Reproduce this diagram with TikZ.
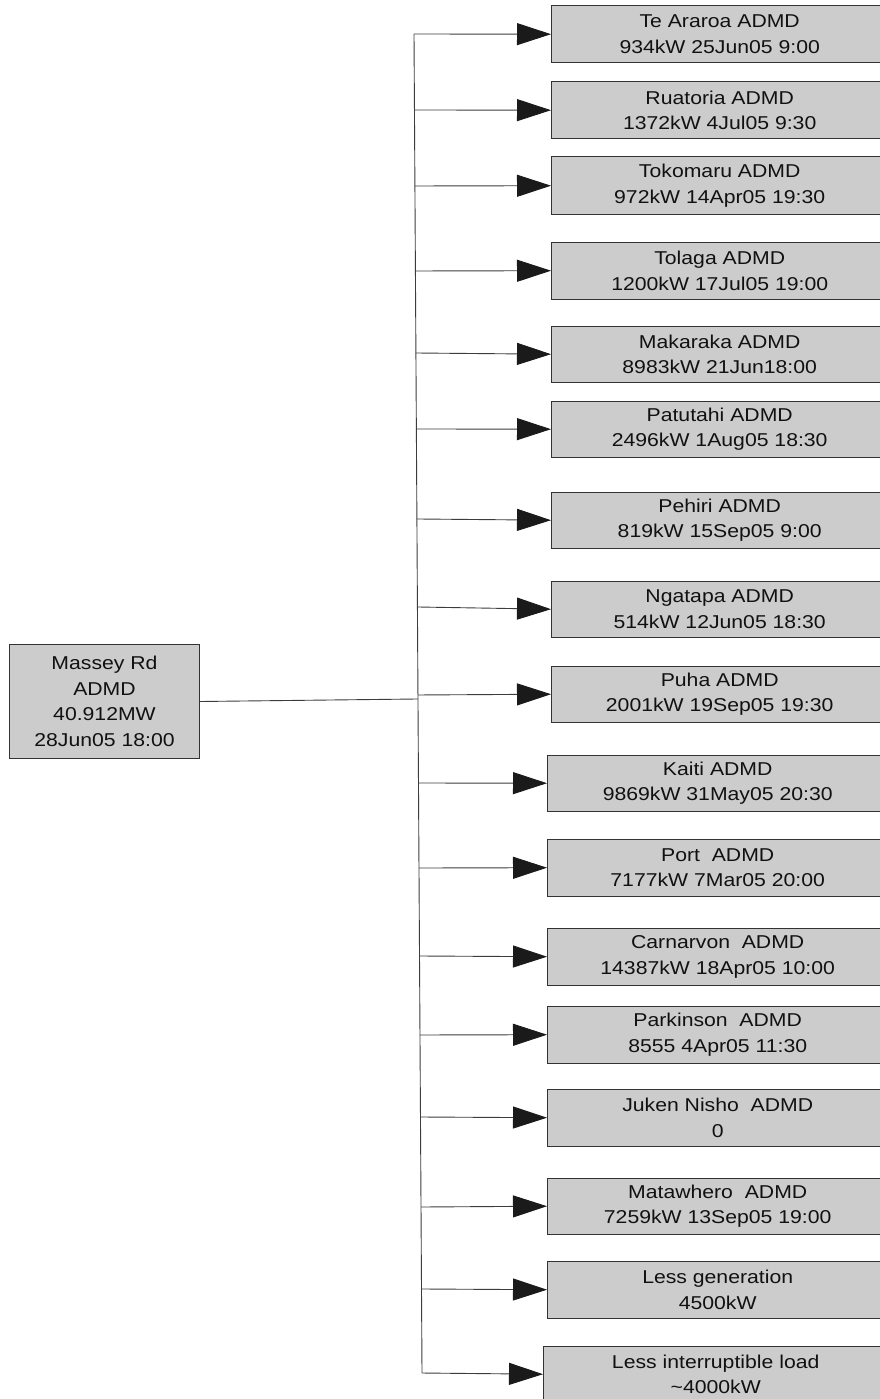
\documentclass[tikz,border=0pt]{standalone}
\usepackage{fontspec}
\newfontfamily\boxfont[FakeStretch=1.14]{Liberation Sans}
\usetikzlibrary{arrows.meta,calc,backgrounds}
\definecolor{boxfill}{HTML}{CCCCCC}
\definecolor{boxline}{HTML}{333333}
\definecolor{wirec}{HTML}{3C3C3C}
\definecolor{tipc}{HTML}{1A1A1A}
\definecolor{txt}{HTML}{111111}
\begin{document}
\begin{tikzpicture}[x=1pt,y=-1pt,
  boxtext/.style={inner sep=0pt, align=center, anchor=north west, text=txt,
    font=\boxfont\fontsize{18.6}{25.5}\selectfont},
  box/.style={boxtext, draw=boxline, fill=boxfill, line width=1pt},
  frame/.style={draw=boxline, fill=boxfill, line width=1pt},
  wire/.style={draw=wirec, line width=0.9pt},
  feed/.style={wire, -{Triangle[length=34pt,width=22pt,fill=tipc,color=tipc]}}]
\useasboundingbox (0,0) rectangle (880,1399);

\node[box, minimum width=190pt, minimum height=114pt] (massey) at (9,644)
  {Massey Rd\\ADMD\\40.912MW\\28Jun05 18:00};

\node[boxtext, minimum width=337pt, minimum height=56pt] (n1) at (551,6) {Te Araroa ADMD\\934kW 25Jun05 9:00};
\node[boxtext, minimum width=337pt, minimum height=56pt] (n2) at (551,82) {Ruatoria ADMD\\1372kW 4Jul05 9:30};
\node[boxtext, minimum width=337pt, minimum height=57pt] (n3) at (551,157) {Tokomaru ADMD\\972kW 14Apr05 19:30};
\node[boxtext, minimum width=337pt, minimum height=57pt] (n4) at (551,242) {Tolaga ADMD\\1200kW 17Jul05 19:00};
\node[boxtext, minimum width=337pt, minimum height=56pt] (n5) at (551,326) {Makaraka ADMD\\8983kW 21Jun18:00};
\node[boxtext, minimum width=337pt, minimum height=56pt] (n6) at (551,401) {Patutahi ADMD\\2496kW 1Aug05 18:30};
\node[boxtext, minimum width=337pt, minimum height=56pt] (n7) at (551,492) {Pehiri ADMD\\819kW 15Sep05 9:00};
\node[boxtext, minimum width=337pt, minimum height=56pt] (n8) at (551,581) {Ngatapa ADMD\\514kW 12Jun05 18:30};
\node[boxtext, minimum width=337pt, minimum height=56pt] (n9) at (551,666) {Puha ADMD\\2001kW 19Sep05 19:30};
\node[boxtext, minimum width=341pt, minimum height=56pt] (n10) at (547,755) {Kaiti ADMD\\9869kW 31May05 20:30};
\node[boxtext, minimum width=341pt, minimum height=57pt] (n11) at (547,839) {Port\ \ ADMD\\7177kW 7Mar05 20:00};
\node[boxtext, minimum width=341pt, minimum height=57pt] (n12) at (547,928) {Carnarvon\ \ ADMD\\14387kW 18Apr05 10:00};
\node[boxtext, minimum width=341pt, minimum height=57pt] (n13) at (547,1006) {Parkinson\ \ ADMD\\8555 4Apr05 11:30};
\node[boxtext, minimum width=341pt, minimum height=57pt] (n14) at (547,1089) {Juken Nisho\ \ ADMD\\0};
\node[boxtext, minimum width=341pt, minimum height=56pt] (n15) at (547,1178) {Matawhero\ \ ADMD\\7259kW 13Sep05 19:00};
\node[boxtext, minimum width=341pt, minimum height=57pt] (n16) at (547,1261) {Less generation\\4500kW};
\node[boxtext, minimum width=345pt, minimum height=56pt] (n17) at (543,1346) {Less interruptible load\\\textasciitilde4000kW};

\begin{scope}[on background layer]
  \foreach \n in {n1,n2,n3,n4,n5,n6,n7,n8,n9,n10,n11,n12,n13,n14,n15,n16,n17}
    \path[frame] (\n.north west) rectangle ([xshift=30pt]\n.south east);
\end{scope}

\coordinate (top) at (414,34);
\coordinate (bot) at (422,1373);
\draw[wire] (top) -- (bot);

\coordinate (jm) at ($(top)!{(699-34)/1339}!(bot)$);
\draw[wire] (massey.east) -- (jm);

\foreach \i/\y in {1/34, 2/110, 3/186, 4/271, 5/353, 6/429, 7/519, 8/607, 9/695,
                   10/783, 11/868, 12/956, 13/1035, 14/1117, 15/1207, 16/1289, 17/1373} {
  \coordinate (j\i) at ($(top)!{(\y-34)/1339}!(bot)$);
  \draw[feed] (j\i) -- (n\i.west);
}
\end{tikzpicture}
\end{document}
